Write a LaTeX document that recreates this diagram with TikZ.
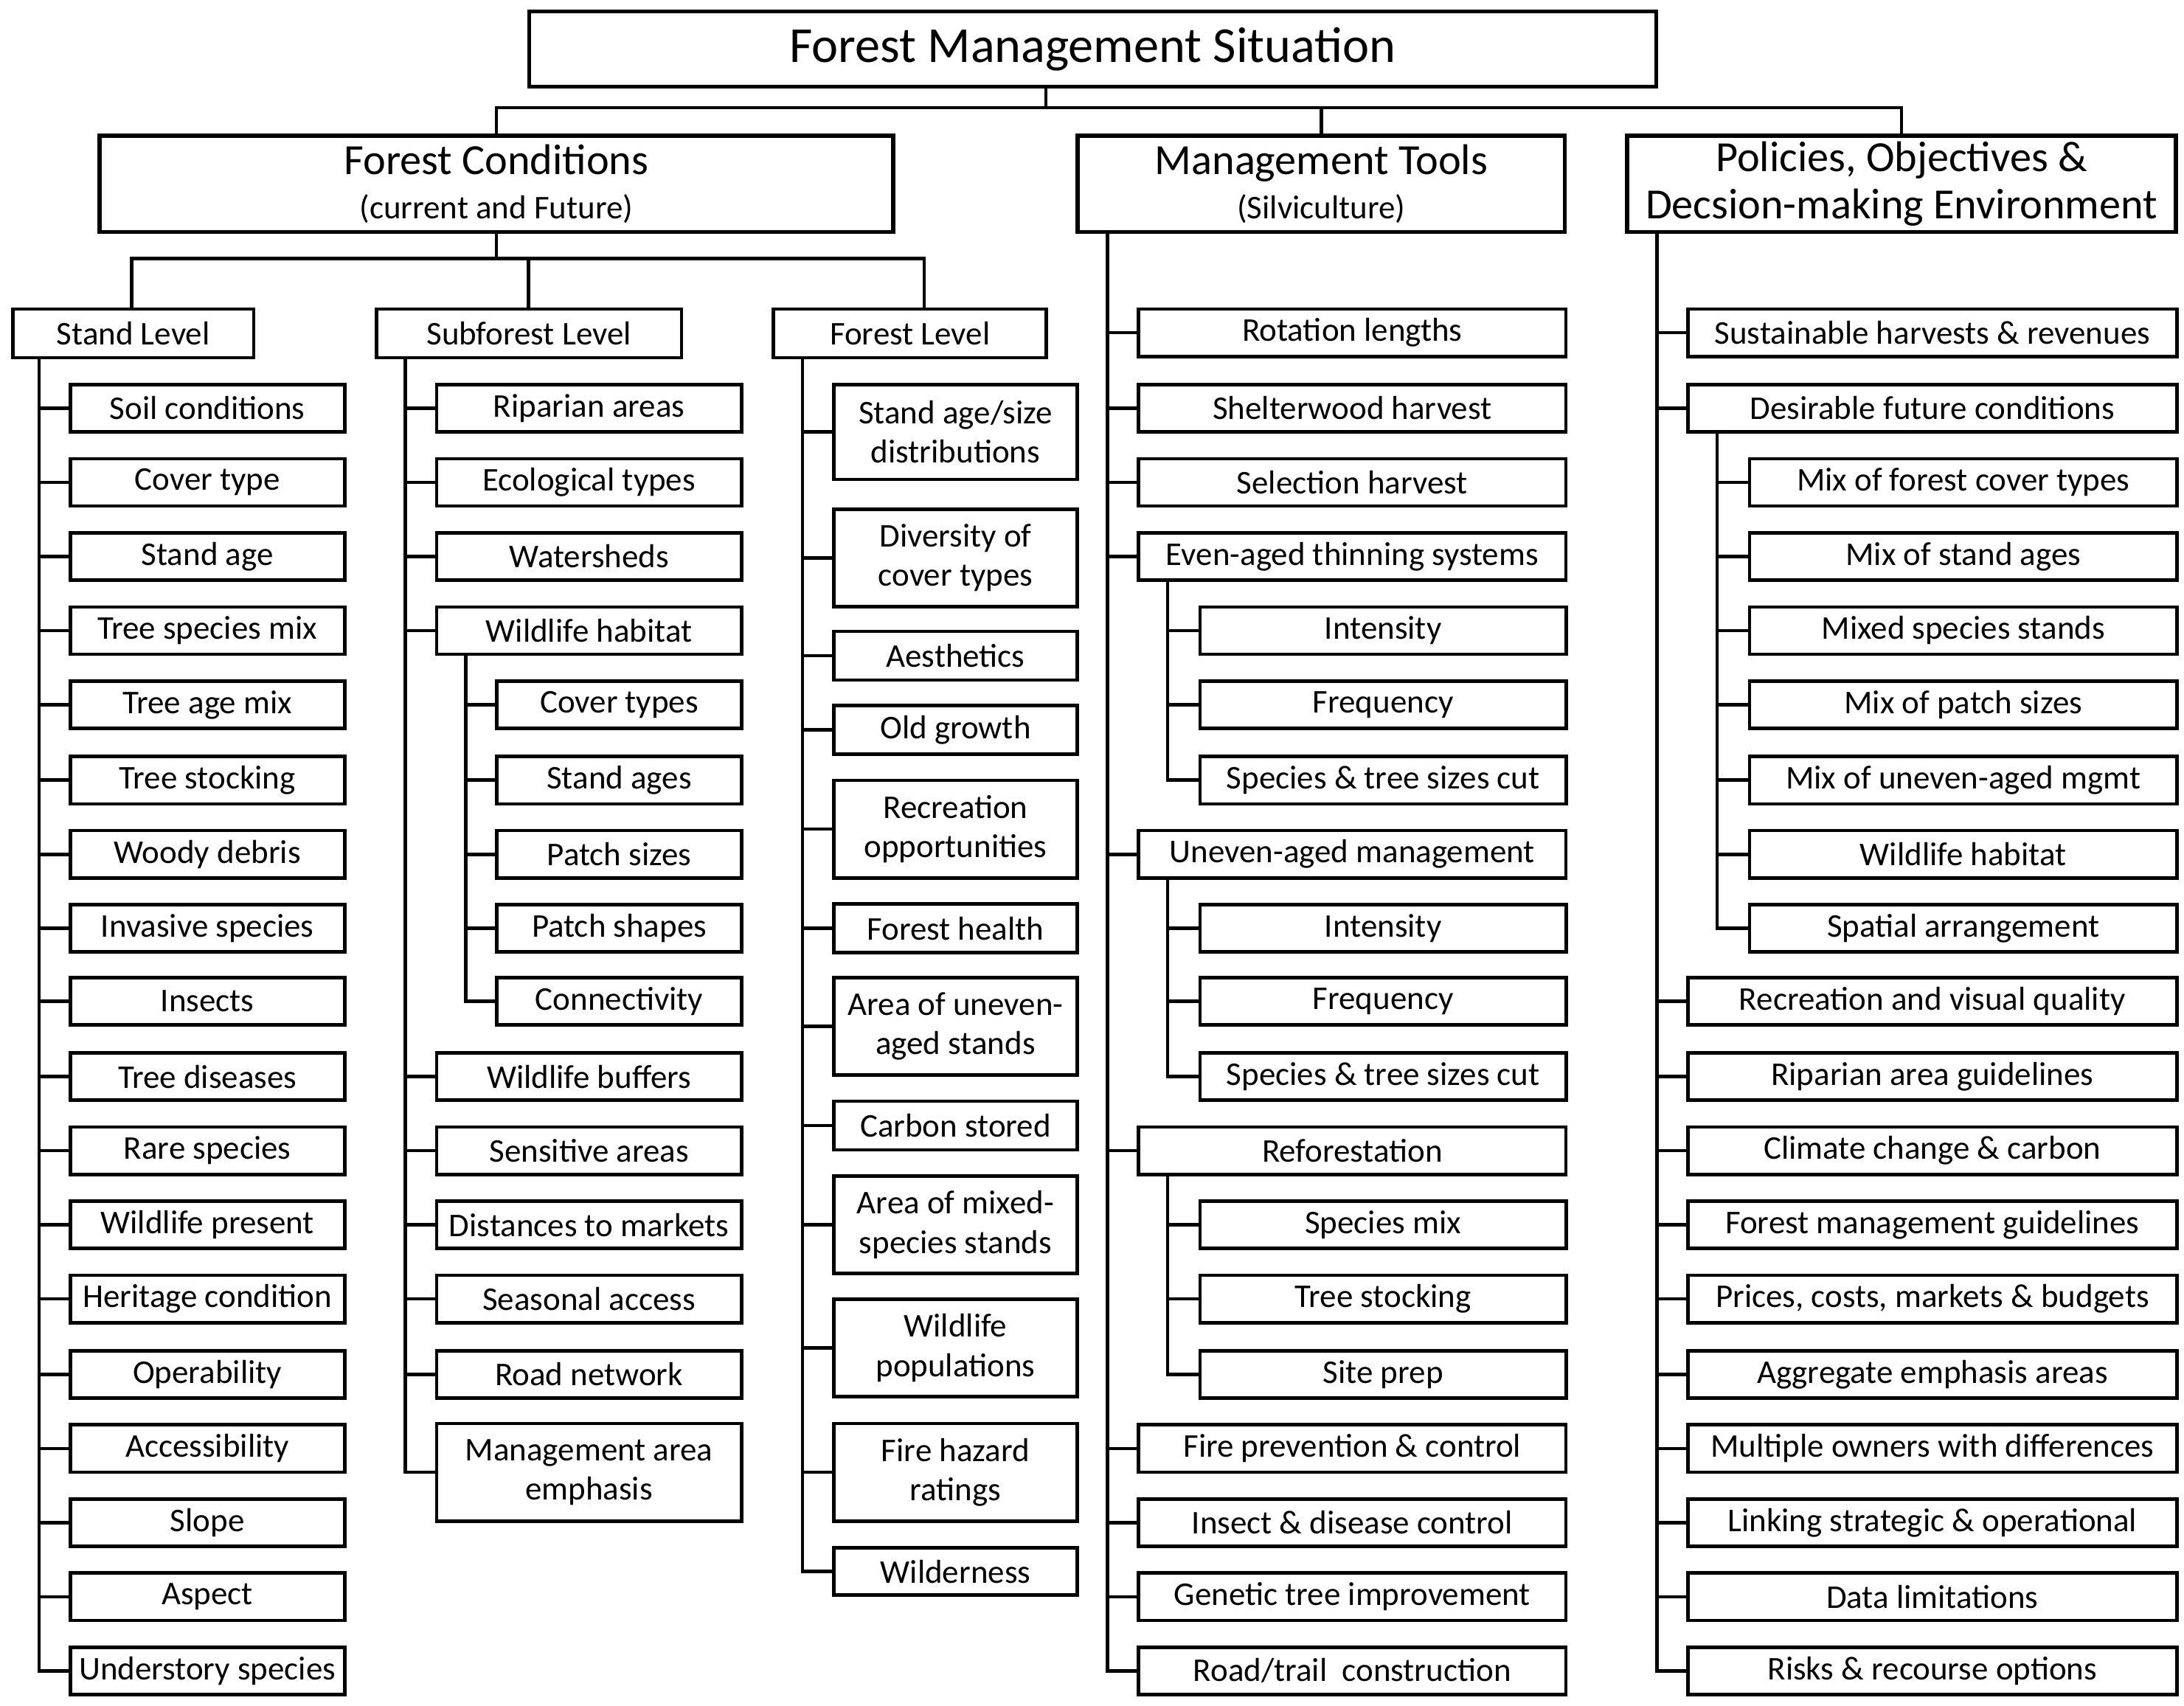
\documentclass[tikz,border=0pt]{standalone}
\usepackage{fontspec}
\setmainfont{Carlito}
\begin{document}
\begin{tikzpicture}[x=0.02cm,y=-0.02cm,
 box/.style={draw,line width=1.4pt,inner sep=0pt,align=center,anchor=west,font=\fontsize{13.5}{16}\selectfont},
 ln/.style={line width=1.4pt}]
\useasboundingbox (0,0) rectangle (1562,1220);
\newcommand\bx[6]{\node[box,minimum width={(#3-#2)*0.5669pt},minimum height={#5*0.5669pt}] (#1) at (#2,#4) {#6};}
\newcommand\lf[7]{\bx{#1}{#2}{#3}{#4}{#5}{#6}\draw[ln] (#7) |- (#1.west);}
% top
\node[draw,line width=1.6pt,inner sep=0pt,minimum width={809*0.5669pt},minimum height={54*0.5669pt},font=\fontsize{20.5}{22}\selectfont] (top) at (781.5,35) {Forest Management Situation};
\node[draw,line width=1.6pt,inner sep=0pt,align=center,minimum width={570*0.5669pt},minimum height={69*0.5669pt},font=\fontsize{17.5}{19}\selectfont] (fc) at (355,131.5) {Forest Conditions\\[-1pt]{\fontsize{13.5}{15}\selectfont (current and Future)}};
\node[draw,line width=1.6pt,inner sep=0pt,align=center,minimum width={350*0.5669pt},minimum height={69*0.5669pt},font=\fontsize{17.5}{19}\selectfont] (mt) at (945,131.5) {Management Tools\\[-1pt]{\fontsize{13.5}{15}\selectfont (Silviculture)}};
\node[draw,line width=1.6pt,inner sep=0pt,align=center,minimum width={394*0.5669pt},minimum height={69*0.5669pt},font=\fontsize{17.5}{19.5}\selectfont] (po) at (1360,131.5) {Policies, Objectives \&\\Decsion-making Environment};
\coordinate (j1) at (748,77);
\draw[ln] (top.south -| j1) -- (j1);
\draw[ln] (fc.north) |- (j1) -| (po.north);
\draw[ln] (mt.north) -- (mt.north |- j1);
% forest conditions level
\bx{sl}{8}{181}{238.5}{35}{Stand Level}
\bx{sf}{268}{487}{238.5}{35}{Subforest Level}
\bx{fl}{552}{748}{238.5}{35}{Forest Level}
\coordinate (j2) at (355,185);
\draw[ln] (fc.south) -- (j2);
\draw[ln] (sl.north -| 94,0) |- (j2) -| (fl.north -| 661,0);
\draw[ln] (sf.north -| 378,0) -- (378,185);
% stand level
\coordinate (a) at (28,256);
\lf{a1}{49}{246}{292}{34}{Soil conditions}{a}
\lf{a2}{49}{246}{345}{34}{Cover type}{a}
\lf{a3}{49}{246}{398}{34}{Stand age}{a}
\lf{a4}{49}{246}{451}{34}{Tree species mix}{a}
\lf{a5}{49}{246}{504}{34}{Tree age mix}{a}
\lf{a6}{49}{246}{558}{34}{Tree stocking}{a}
\lf{a7}{49}{246}{611}{34}{Woody debris}{a}
\lf{a8}{49}{246}{664}{34}{Invasive species}{a}
\lf{a9}{49}{246}{716}{34}{Insects}{a}
\lf{a10}{49}{246}{770}{34}{Tree diseases}{a}
\lf{a11}{49}{246}{823}{34}{Rare species}{a}
\lf{a12}{49}{246}{876}{34}{Wildlife present}{a}
\lf{a13}{49}{246}{929}{34}{Heritage condition}{a}
\lf{a14}{49}{246}{983}{34}{Operability}{a}
\lf{a15}{49}{246}{1036}{34}{Accessibility}{a}
\lf{a16}{49}{246}{1089}{34}{Slope}{a}
\lf{a17}{49}{246}{1142}{34}{Aspect}{a}
\lf{a18}{49}{246}{1195}{34}{Understory species}{a}
% subforest
\coordinate (b) at (290,256);
\lf{b1}{311}{530}{292}{34}{Riparian areas}{b}
\lf{b2}{311}{530}{345}{34}{Ecological types}{b}
\lf{b3}{311}{530}{398}{34}{Watersheds}{b}
\lf{b4}{311}{530}{451}{34}{Wildlife habitat}{b}
\coordinate (bb) at (333,468);
\lf{c1}{354}{530}{504}{34}{Cover types}{bb}
\lf{c2}{354}{530}{558}{34}{Stand ages}{bb}
\lf{c3}{354}{530}{611}{34}{Patch sizes}{bb}
\lf{c4}{354}{530}{664}{34}{Patch shapes}{bb}
\lf{c5}{354}{530}{716}{34}{Connectivity}{bb}
\lf{b5}{311}{530}{770}{34}{Wildlife buffers}{b}
\lf{b6}{311}{530}{823}{34}{Sensitive areas}{b}
\lf{b7}{311}{530}{876}{34}{Distances to markets}{b}
\lf{b8}{311}{530}{929}{34}{Seasonal access}{b}
\lf{b9}{311}{530}{983}{34}{Road network}{b}
\lf{b10}{311}{530}{1053}{70}{Management area\\emphasis}{b}
% forest level
\coordinate (d) at (574,256);
\lf{d1}{595}{770}{309}{68}{Stand age/size\\distributions}{d}
\lf{d2}{595}{770}{399}{70}{Diversity of\\cover types}{d}
\lf{d3}{595}{770}{469}{35}{Aesthetics}{d}
\lf{d4}{595}{770}{522}{35}{Old growth}{d}
\lf{d5}{595}{770}{593}{70}{Recreation\\opportunities}{d}
\lf{d6}{595}{770}{664}{35}{Forest health}{d}
\lf{d7}{595}{770}{734}{70}{Area of uneven-\\aged stands}{d}
\lf{d8}{595}{770}{805}{35}{Carbon stored}{d}
\lf{d9}{595}{770}{876}{70}{Area of mixed-\\species stands}{d}
\lf{d10}{595}{770}{964}{70}{Wildlife\\populations}{d}
\lf{d11}{595}{770}{1053}{70}{Fire hazard\\ratings}{d}
\lf{d12}{595}{770}{1124}{34}{Wilderness}{d}
% management tools
\coordinate (m) at (792,166);
\lf{m1}{813}{1120}{238}{34}{Rotation lengths}{m}
\lf{m2}{813}{1120}{292}{34}{Shelterwood harvest}{m}
\lf{m3}{813}{1120}{345}{34}{Selection harvest}{m}
\lf{m4}{813}{1120}{398}{34}{Even-aged thinning systems}{m}
\coordinate (n1) at (835,415);
\lf{n11}{857}{1120}{451}{34}{Intensity}{n1}
\lf{n12}{857}{1120}{504}{34}{Frequency}{n1}
\lf{n13}{857}{1120}{558}{34}{Species \& tree sizes cut}{n1}
\lf{m5}{813}{1120}{611}{34}{Uneven-aged management}{m}
\coordinate (n2) at (835,628);
\lf{n21}{857}{1120}{664}{34}{Intensity}{n2}
\lf{n22}{857}{1120}{716}{34}{Frequency}{n2}
\lf{n23}{857}{1120}{770}{34}{Species \& tree sizes cut}{n2}
\lf{m6}{813}{1120}{823}{34}{Reforestation}{m}
\coordinate (n3) at (835,840);
\lf{n31}{857}{1120}{876}{34}{Species mix}{n3}
\lf{n32}{857}{1120}{929}{34}{Tree stocking}{n3}
\lf{n33}{857}{1120}{983}{34}{Site prep}{n3}
\lf{m7}{813}{1120}{1036}{34}{Fire prevention \& control}{m}
\lf{m8}{813}{1120}{1089}{34}{Insect \& disease control}{m}
\lf{m9}{813}{1120}{1142}{34}{Genetic tree improvement}{m}
\lf{m10}{813}{1120}{1195}{34}{Road/trail\ \ construction}{m}
% policies
\coordinate (p) at (1185,166);
\lf{p1}{1206}{1557}{238}{34}{Sustainable harvests \& revenues}{p}
\lf{p2}{1206}{1557}{292}{34}{Desirable future conditions}{p}
\coordinate (q) at (1228,309);
\lf{q1}{1250}{1557}{345}{34}{Mix of forest cover types}{q}
\lf{q2}{1250}{1557}{398}{34}{Mix of stand ages}{q}
\lf{q3}{1250}{1557}{451}{34}{Mixed species stands}{q}
\lf{q4}{1250}{1557}{504}{34}{Mix of patch sizes}{q}
\lf{q5}{1250}{1557}{558}{34}{Mix of uneven-aged mgmt}{q}
\lf{q6}{1250}{1557}{611}{34}{Wildlife habitat}{q}
\lf{q7}{1250}{1557}{664}{34}{Spatial arrangement}{q}
\lf{p3}{1206}{1557}{716}{34}{Recreation and visual quality}{p}
\lf{p4}{1206}{1557}{770}{34}{Riparian area guidelines}{p}
\lf{p5}{1206}{1557}{823}{34}{Climate change \& carbon}{p}
\lf{p6}{1206}{1557}{876}{34}{Forest management guidelines}{p}
\lf{p7}{1206}{1557}{929}{34}{Prices, costs, markets \& budgets}{p}
\lf{p8}{1206}{1557}{983}{34}{Aggregate emphasis areas}{p}
\lf{p9}{1206}{1557}{1036}{34}{Multiple owners with differences}{p}
\lf{p10}{1206}{1557}{1089}{34}{Linking strategic \& operational}{p}
\lf{p11}{1206}{1557}{1142}{34}{Data limitations}{p}
\lf{p12}{1206}{1557}{1195}{34}{Risks \& recourse options}{p}
\end{tikzpicture}
\end{document}
